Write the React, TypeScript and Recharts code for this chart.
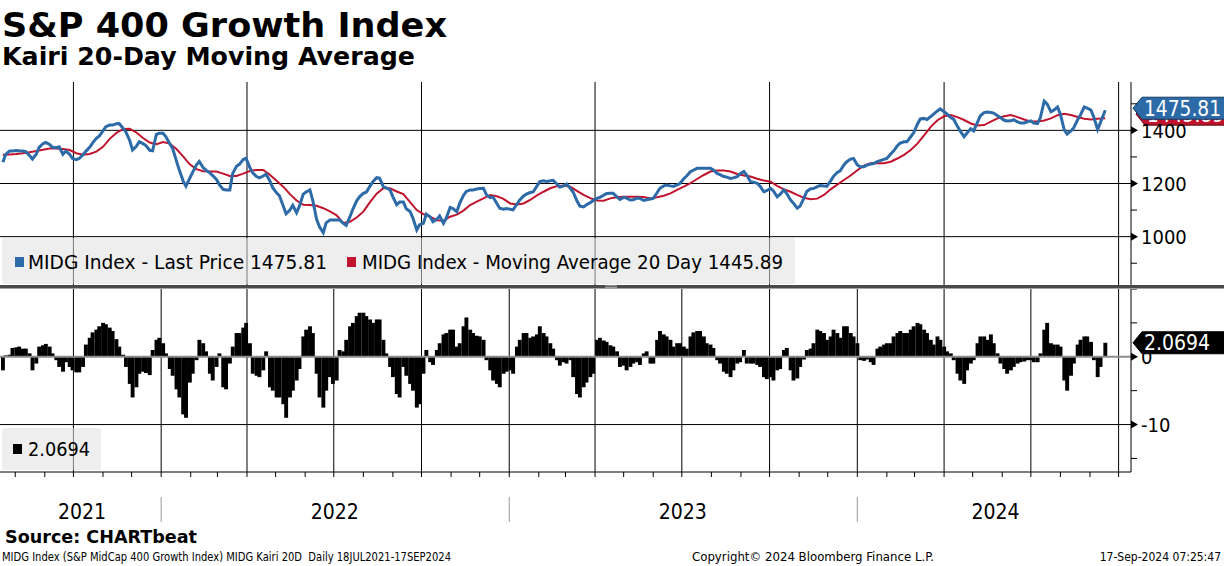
import React from 'react';
import {
  ComposedChart,
  Line,
  Bar,
  XAxis,
  YAxis,
  CartesianGrid,
  ReferenceLine,
} from 'recharts';

// Monday closes from 19 Jul 2021 (last value = 17 Sep 2024)
const price2021 = [1280, 1322, 1324, 1322, 1305, 1310, 1350, 1347, 1335, 1310, 1310, 1290, 1308, 1336, 1370, 1398, 1420, 1425, 1408, 1362, 1340, 1350, 1325, 1385];
const price2022 = [1389, 1350, 1285, 1210, 1220, 1270, 1260, 1240, 1215, 1178, 1176, 1265, 1290, 1260, 1226, 1228, 1210, 1165, 1115, 1100, 1090, 1160, 1176, 1065, 1015, 1063, 1063, 1050, 1075, 1135, 1163, 1190, 1222, 1188, 1176, 1120, 1130, 1095, 1025, 1050, 1075, 1065, 1050, 1110, 1094, 1155, 1176, 1179, 1182, 1147, 1125, 1103];
const price2023 = [1103, 1122, 1153, 1166, 1190, 1210, 1210, 1198, 1191, 1182, 1135, 1112, 1128, 1144, 1156, 1163, 1150, 1148, 1138, 1145, 1136, 1142, 1165, 1191, 1191, 1195, 1218, 1244, 1257, 1257, 1257, 1238, 1226, 1219, 1226, 1245, 1207, 1201, 1169, 1182, 1150, 1176, 1138, 1107, 1145, 1180, 1188, 1191, 1210, 1242, 1270, 1292];
const price2024 = [1270, 1263, 1273, 1282, 1291, 1311, 1342, 1357, 1376, 1423, 1445, 1452, 1473, 1470, 1448, 1415, 1376, 1406, 1430, 1467, 1467, 1455, 1438, 1436, 1432, 1428, 1436, 1425, 1510, 1470, 1488, 1402, 1398, 1440, 1488, 1476, 1403, 1475.81];

// Thursday closes (22 Jul 2021 .. 12 Sep 2024)
const priceThu2021 = [1310, 1322, 1323, 1320, 1292, 1336, 1355, 1336, 1338, 1322, 1294, 1294, 1321, 1352, 1378, 1414, 1420, 1426, 1394, 1326, 1357, 1343, 1323, 1389];
const priceThu2022 = [1376, 1332, 1251, 1190, 1242, 1283, 1250, 1230, 1196, 1176, 1238, 1272, 1295, 1240, 1221, 1235, 1184, 1154, 1086, 1118, 1115, 1168, 1136, 1037, 1052, 1063, 1063, 1042, 1103, 1150, 1167, 1207, 1220, 1184, 1150, 1130, 1105, 1070, 1045, 1085, 1056, 1078, 1070, 1106, 1125, 1170, 1176, 1181, 1158, 1149, 1107, 1106];
const priceThu2023 = [1101, 1138, 1160, 1168, 1207, 1208, 1212, 1187, 1198, 1168, 1115, 1120, 1136, 1148, 1162, 1163, 1140, 1145, 1139, 1144, 1139, 1144, 1182, 1194, 1189, 1200, 1228, 1250, 1257, 1257, 1251, 1233, 1224, 1221, 1236, 1232, 1205, 1190, 1173, 1172, 1159, 1162, 1126, 1115, 1170, 1181, 1192, 1189, 1227, 1248, 1282, 1294];
const priceThu2024 = [1263, 1269, 1275, 1286, 1294, 1322, 1352, 1357, 1390, 1443, 1441, 1461, 1481, 1462, 1442, 1397, 1390, 1398, 1455, 1469, 1465, 1448, 1435, 1440, 1428, 1432, 1427, 1448, 1500, 1476, 1460, 1386, 1410, 1458, 1484, 1450, 1430];

// 20-day moving average, Mondays
const ma2021 = [1308, 1309, 1311, 1314, 1318, 1322, 1327, 1332, 1332, 1330, 1326, 1314, 1308, 1311, 1320, 1338, 1368, 1390, 1405, 1406, 1392, 1371, 1354, 1348];
const ma2022 = [1356, 1350, 1330, 1302, 1272, 1254, 1246, 1245, 1245, 1237, 1228, 1228, 1237, 1247, 1251, 1251, 1233, 1210, 1188, 1160, 1136, 1120, 1119, 1116, 1107, 1095, 1080, 1051, 1056, 1072, 1094, 1130, 1162, 1182, 1182, 1170, 1160, 1130, 1100, 1085, 1075, 1062, 1060, 1075, 1083, 1098, 1119, 1132, 1144, 1157, 1152, 1142];
const ma2023 = [1125, 1121, 1125, 1138, 1155, 1169, 1182, 1190, 1192, 1188, 1172, 1157, 1145, 1136, 1135, 1144, 1148, 1150, 1150, 1150, 1149, 1144, 1148, 1154, 1163, 1176, 1188, 1201, 1217, 1232, 1245, 1249, 1249, 1245, 1236, 1230, 1226, 1218, 1211, 1207, 1191, 1178, 1169, 1157, 1146, 1141, 1143, 1157, 1178, 1196, 1213, 1230];
const ma2024 = [1250, 1267, 1276, 1276, 1276, 1282, 1294, 1308, 1326, 1350, 1381, 1413, 1438, 1453, 1458, 1450, 1439, 1426, 1418, 1420, 1433, 1445, 1453, 1458, 1450, 1441, 1433, 1433, 1437, 1445, 1457, 1462, 1458, 1450, 1444, 1441, 1444, 1445.89];

// Kairi 20D, Mondays
const kairi2021 = [-2.0, 0.3, 1.4, 1.2, 0.5, -1.0, 1.7, 1.5, -0.5, -2.2, -1.5, -2.3, -1.5, 2.8, 4.0, 5.0, 4.3, 2.6, 0.3, -4.0, -4.5, -2.2, -2.7, 2.5];
const kairi2022 = [2.0, -1.8, -4.8, -8.5, -3.8, -0.5, 2.0, -2.5, -1.5, -4.5, -1.0, 3.5, 4.3, 2.0, -2.8, -2.0, -4.5, -6.0, -7.0, -6.0, -3.5, 3.0, 4.5, -2.5, -7.5, -3.0, -3.5, 0.8, 4.5, 6.0, 6.5, 5.5, 5.5, 2.5, -1.5, -5.5, -1.5, -4.0, -7.5, -2.5, -0.8, 1.0, 3.3, 4.0, 1.5, 4.5, 4.0, 3.1, 2.5, -2.0, -4.0, -2.5];
const kairi2023 = [-2.0, 1.5, 3.5, 2.8, 3.3, 3.5, 2.0, -0.5, -0.8, -0.5, -5.5, -4.5, -3.0, 2.5, 2.4, 1.7, 0.8, -1.3, -1.5, -0.8, 0.5, -1.0, 2.5, 3.3, 2.5, 2.0, 1.5, 3.0, 3.8, 3.0, 1.8, -0.5, -2.2, -3.0, -1.0, 1.0, -1.0, -1.2, -3.0, -3.0, -2.0, 1.0, -2.0, -3.2, -0.4, 1.2, 4.0, 3.5, 3.0, 3.5, 4.5, 3.5];
const kairi2024 = [2.0, -0.6, -0.8, 1.2, 1.8, 2.0, 3.5, 3.5, 4.0, 5.0, 4.0, 2.5, 3.0, 1.5, 0.5, -2.5, -4.0, -1.0, 2.0, 3.0, 3.3, 0.5, -1.8, -2.0, -1.0, -0.7, -0.5, -0.8, 4.0, 2.0, 1.8, -3.5, -2.8, 1.8, 3.0, 2.2, -3.0, 2.0694];

// Kairi 20D, Thursdays
const kairiThu2021 = [0.2, 1.3, 1.5, 1.2, -2.0, 1.5, 1.9, 0.5, -1.5, -0.8, -2.0, -2.3, 1.8, 3.6, 4.5, 4.8, 3.8, 1.5, -1.5, -6.0, -2.5, -2.4, 1.0, 2.8];
const kairiThu2022 = [0.5, -2.8, -6.0, -9.0, -2.5, 2.5, 0.8, -3.5, 0.5, -4.8, 1.5, 3.5, 5.0, -2.5, -3.0, 0.8, -5.0, -6.0, -9.0, -5.0, -1.8, 4.0, 3.5, -6.0, -5.0, -4.0, 1.0, 2.5, 5.0, 6.5, 6.0, 5.0, 5.5, 0.5, -3.0, -6.0, -2.8, -5.0, -7.0, 1.0, -1.2, 2.0, 3.5, 4.0, 2.0, 5.8, 3.5, 3.0, -0.5, -3.5, -4.5, -2.2];
const kairiThu2023 = [-2.5, 2.5, 3.5, 3.0, 4.5, 3.0, 1.2, -1.3, -1.0, -3.0, -6.0, -3.8, -2.5, 2.8, 2.2, 1.5, -1.5, -2.0, -1.0, -1.2, 0.8, -1.0, 3.8, 3.0, 1.5, 2.0, 1.2, 3.6, 3.8, 2.0, 1.3, -1.0, -2.5, -2.0, -0.8, -1.0, -1.0, -1.5, -3.3, -3.5, -1.8, 1.3, -3.5, -1.5, 1.0, 2.0, 3.8, 2.5, 4.0, 2.8, 4.5, 3.0];
const kairiThu2024 = [-0.5, -0.4, -1.2, 1.5, 2.0, 3.0, 3.8, 3.5, 4.5, 4.8, 3.5, 1.8, 2.5, 0.8, -0.5, -3.5, -2.0, -0.5, 3.0, 2.5, 2.0, -1.0, -2.5, -1.5, -0.8, -0.5, -0.8, 0.5, 5.0, 1.8, 1.5, -5.0, -1.0, 2.5, 3.0, -0.5, -1.5];

const quarterStarts = ['2021-10-01', '2022-01-01', '2022-04-01', '2022-07-01', '2022-10-01', '2023-01-01', '2023-04-01', '2023-07-01', '2023-10-01', '2024-01-01', '2024-04-01', '2024-07-01', '2024-10-01'];
const yearLabels = [
  { year: '2021', at: '2021-10-10' },
  { year: '2022', at: '2022-07-02' },
  { year: '2023', at: '2023-07-02' },
  { year: '2024', at: '2024-05-25' },
];
const priceTicks = [900, 1000, 1100, 1200, 1300, 1400, 1500];
const priceLabels = [1000, 1200, 1400];
const kairiTicks = [-15, -10, -5, 0, 5, 10];
const kairiLabels = [-10, 0];

const DAY = 24 * 3600 * 1000;
const firstMonday = Date.parse('2021-07-19');
const lastDay = Date.parse('2024-09-17');
const xDomain = [Date.parse('2021-07-16'), Date.parse('2024-10-14')];

const prices = [...price2021, ...price2022, ...price2023, ...price2024];
const pricesThu = [...priceThu2021, ...priceThu2022, ...priceThu2023, ...priceThu2024];
const mas = [...ma2021, ...ma2022, ...ma2023, ...ma2024];
const kairis = [...kairi2021, ...kairi2022, ...kairi2023, ...kairi2024];
const kairisThu = [...kairiThu2021, ...kairiThu2022, ...kairiThu2023, ...kairiThu2024];

const data: { t: number; price: number; ma?: number; kairi: number }[] = [];
prices.forEach((p, i) => {
  const t = i === prices.length - 1 ? lastDay : firstMonday + i * 7 * DAY;
  data.push({ t, price: p, ma: mas[i], kairi: kairis[i] });
  if (i < pricesThu.length) data.push({ t: t + 3 * DAY, price: pricesThu[i], kairi: kairisThu[i] });
});

const quarterTicks = quarterStarts.map((d) => Date.parse(d));
const monthTicks: number[] = [];
for (let y = 2021; y <= 2024; y++) {
  for (let m = 0; m < 12; m++) {
    const t = Date.UTC(y, m, 1);
    if (t > xDomain[0] && t < xDomain[1]) monthTicks.push(t);
  }
}
const yearTicks = yearLabels.map((y) => Date.parse(y.at));

const BLUE = '#2d6aa8';
const RED = '#c0142e';
const FONT = "'DejaVu Sans Condensed', 'DejaVu Sans', sans-serif";
const BOLD_FONT = "'DejaVu Sans', sans-serif";

const RightTick = (props: any) => {
  const { x, y, payload, labels } = props;
  const major = labels.includes(payload.value);
  return (
    <g>
      {major ? (
        <path d={`M${x},${y - 4}L${x + 7},${y}L${x},${y + 4}Z`} fill="#000" />
      ) : (
        <line x1={x} x2={x + 6} y1={y} y2={y} stroke="#000" />
      )}
      {major && (
        <text x={x + 10} y={y} dy="0.36em" fontSize={20} fontFamily={FONT} style={{ fontStretch: 'condensed' }} fill="#000">
          {payload.value}
        </text>
      )}
    </g>
  );
};

const MonthTick = (props: any) => {
  const { x, y, payload } = props;
  const jan = new Date(payload.value).getUTCMonth() === 0;
  return (
    <g>
      <line x1={x} x2={x} y1={y} y2={y + 5} stroke="#000" />
      {jan && <line x1={x} x2={x} y1={y + 25} y2={y + 50} stroke="#9a9a9a" />}
    </g>
  );
};

const YearTick = (props: any) => {
  const { x, y, payload } = props;
  const label = yearLabels[yearTicks.indexOf(payload.value)]?.year;
  return (
    <text x={x} y={y + 38} dy="0.36em" textAnchor="middle" fontSize={21} fontFamily={FONT} style={{ fontStretch: 'condensed' }} fill="#000">
      {label}
    </text>
  );
};

// 每根柱子稍微加宽，让柱状图连成一片
const KairiBar = (props: any) => {
  const { x, y, width, height } = props;
  if (x == null || y == null) return null;
  const top = Math.min(y, y + height);
  const h = Math.abs(height);
  const w = Math.max(width, 2.9) + 0.9;
  return <rect x={x + width / 2 - w / 2} y={top} width={w} height={h} fill="#000" />;
};

const ValueTag = (props: any) => {
  const { viewBox, text, fill, stroke, dx = 0, dy = 0, textWidth } = props;
  if (!viewBox) return null;
  const x0 = viewBox.x + viewBox.width + 2 + dx;
  const y = viewBox.y + dy;
  const h = 11;
  return (
    <g>
      <path
        d={`M${x0},${y}L${x0 + 9},${y - h}L${x0 + 92},${y - h}L${x0 + 92},${y + h}L${x0 + 9},${y + h}Z`}
        fill={fill}
        stroke={stroke}
      />
      <text x={x0 + 11} y={y} dy="0.36em" fill="#fff" fontSize={21} fontFamily={FONT} textLength={textWidth} lengthAdjust="spacingAndGlyphs">
        {text}
      </text>
    </g>
  );
};

export default function App() {
  const lastPrice = prices[prices.length - 1];
  const lastMa = mas[mas.length - 1];
  const lastKairi = kairis[kairis.length - 1];

  return (
    <div style={{ position: 'fixed', left: 0, top: 0, width: 1224, height: 566, background: '#fff', overflow: 'hidden' }}>
      {/* 价格面板 */}
      <div style={{ position: 'absolute', left: 0, top: 82 }}>
        <ComposedChart width={1224} height={203} data={data} margin={{ top: 0, right: 0, left: 0, bottom: 0 }}>
          <CartesianGrid stroke="#000" horizontalValues={priceLabels} verticalValues={quarterTicks} />
          <XAxis type="number" dataKey="t" domain={xDomain} allowDataOverflow ticks={quarterTicks} hide />
          <YAxis
            orientation="right"
            type="number"
            width={93}
            domain={[818, 1582]}
            allowDataOverflow
            ticks={priceTicks}
            interval={0}
            tickSize={0}
            tickMargin={0}
            tickLine={false}
            axisLine={{ stroke: '#000' }}
            tick={<RightTick labels={priceLabels} />}
          />
          <Line type="linear" dataKey="ma" stroke={RED} strokeWidth={2} dot={false} connectNulls isAnimationActive={false} />
          <Line type="linear" dataKey="price" stroke={BLUE} strokeWidth={3} dot={false} isAnimationActive={false} />
          <ReferenceLine
            y={lastMa}
            stroke="transparent"
            label={<ValueTag text={lastMa.toFixed(2)} fill={RED} stroke="#5a0a14" dx={3} dy={-4} textWidth={77} />}
          />
          <ReferenceLine
            y={lastPrice}
            stroke="transparent"
            label={<ValueTag text={lastPrice.toFixed(2)} fill={BLUE} stroke="#163a60" dy={-2} textWidth={77} />}
          />
        </ComposedChart>
      </div>

      {/* Kairi 面板 */}
      <div style={{ position: 'absolute', left: 0, top: 289 }}>
        <ComposedChart
          width={1224}
          height={241}
          data={data}
          barCategoryGap={0}
          barGap={0}
          margin={{ top: 0, right: 0, left: 0, bottom: 56 }}
        >
          <CartesianGrid stroke="#000" horizontalValues={[-10]} verticalValues={quarterTicks} />
          <XAxis
            type="number"
            dataKey="t"
            domain={xDomain}
            allowDataOverflow
            ticks={monthTicks}
            interval={0}
            height={1}
            tickSize={0}
            tickMargin={0}
            tickLine={false}
            axisLine={{ stroke: '#000' }}
            tick={<MonthTick />}
          />
          <XAxis
            xAxisId="yr"
            type="number"
            dataKey="t"
            domain={xDomain}
            allowDataOverflow
            ticks={yearTicks}
            interval={0}
            height={1}
            tickSize={0}
            tickMargin={0}
            tickLine={false}
            axisLine={false}
            tick={<YearTick />}
          />
          <YAxis
            orientation="right"
            type="number"
            width={93}
            domain={[-17, 10]}
            allowDataOverflow
            ticks={kairiTicks}
            interval={0}
            tickSize={0}
            tickMargin={0}
            tickLine={false}
            axisLine={{ stroke: '#000' }}
            tick={<RightTick labels={kairiLabels} />}
          />
          <Bar dataKey="kairi" fill="#000" shape={<KairiBar />} isAnimationActive={false} />
          <ReferenceLine y={0} stroke="#8c8c8c" strokeWidth={2} />
          <ReferenceLine
            y={lastKairi}
            stroke="transparent"
            label={<ValueTag text={lastKairi.toFixed(4)} fill="#000" stroke="#000" textWidth={66} />}
          />
        </ComposedChart>
      </div>

      {/* 标题、图例、页脚 */}
      <svg width={1224} height={566} style={{ position: 'absolute', left: 0, top: 0, pointerEvents: 'none' }}>
        <text x={2} y={37} fontSize={34} fontWeight="bold" fontFamily={BOLD_FONT} textLength={445} lengthAdjust="spacingAndGlyphs">
          S&amp;P 400 Growth Index
        </text>
        <text x={2} y={65} fontSize={25} fontWeight="bold" fontFamily={BOLD_FONT} textLength={413} lengthAdjust="spacingAndGlyphs">
          Kairi 20-Day Moving Average
        </text>

        <rect x={0} y={285} width={1224} height={3.5} fill="#4a4a4a" />
        <line x1={605} x2={617} y1={285.8} y2={285.8} stroke="#bbb" strokeWidth={0.8} />
        <line x1={605} x2={617} y1={287.4} y2={287.4} stroke="#bbb" strokeWidth={0.8} />

        <rect x={2} y={238} width={793} height={46} rx={2} fill="#e0e0e0" fillOpacity={0.55} />
        <rect x={15} y={257} width={9} height={10} fill={BLUE} />
        <text x={28} y={269} fontSize={19} fontFamily={FONT} textLength={299} lengthAdjust="spacingAndGlyphs">
          MIDG Index - Last Price {lastPrice.toFixed(2)}
        </text>
        <rect x={347} y={257} width={9} height={10} fill={RED} />
        <text x={362} y={269} fontSize={19} fontFamily={FONT} textLength={421} lengthAdjust="spacingAndGlyphs">
          MIDG Index - Moving Average 20 Day {lastMa.toFixed(2)}
        </text>

        <rect x={2} y={428} width={99} height={42} rx={2} fill="#e0e0e0" fillOpacity={0.55} />
        <rect x={13} y={444} width={9} height={10} fill="#000" />
        <text x={28} y={456} fontSize={19} fontFamily={FONT} textLength={62} lengthAdjust="spacingAndGlyphs">
          {lastKairi.toFixed(4)}
        </text>

        <text x={5} y={543} fontSize={18} fontWeight="bold" fontFamily={BOLD_FONT} textLength={192} lengthAdjust="spacingAndGlyphs">
          Source: CHARTbeat
        </text>
        <text x={2} y={561} fontSize={12} fontFamily={FONT} style={{ whiteSpace: 'pre' }} textLength={449} lengthAdjust="spacingAndGlyphs">
          {'MIDG Index (S&P MidCap 400 Growth Index) MIDG Kairi 20D  Daily 18JUL2021-17SEP2024'}
        </text>
        <text x={692} y={561} fontSize={12} fontFamily={FONT} textLength={242} lengthAdjust="spacingAndGlyphs">
          Copyright© 2024 Bloomberg Finance L.P.
        </text>
        <text x={1221} y={561} fontSize={12} fontFamily={FONT} textAnchor="end">
          17-Sep-2024 07:25:47
        </text>
      </svg>
    </div>
  );
}
